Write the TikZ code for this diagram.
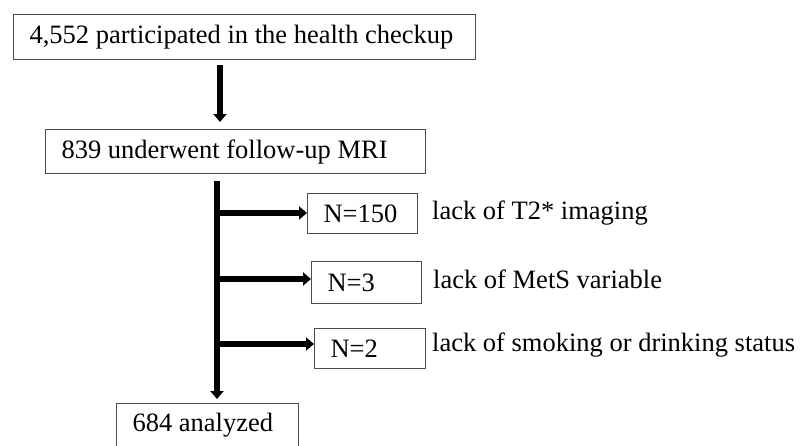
\documentclass[tikz,border=0pt]{standalone}
\usepackage{fontspec}
\setmainfont{Liberation Serif}
\usetikzlibrary{arrows.meta}

\begin{document}
\begin{tikzpicture}[x=1pt,y=-1pt,
   box/.style={draw=black!70,line width=1.1pt,anchor=north west,inner xsep=16pt,
     inner ysep=0pt,align=flush left,font=\fontsize{26.5}{30}\selectfont},
   flow/.style={line width=6pt,-{Triangle[length=8pt,width=13pt]}},
   note/.style={anchor=west,inner sep=0pt,font=\fontsize{26.5}{30}\selectfont}]
   \useasboundingbox (0,0) rectangle (801,445);

   \node[box,text width=430pt,minimum height=45pt] (checkup) at (13,14) {\mbox{4,552 participated in the health checkup}};
   \node[box,text width=348pt,minimum height=44pt] (mri) at (45,129) {\mbox{839 underwent follow-up MRI}};
   \node[box,text width=150pt,minimum height=44pt] (analyzed) at (116,403) {\mbox{684 analyzed}};

   \node[box,text width=78pt,minimum height=40pt] (t2box) at (307,193) {N=150};
   \node[box,text width=78pt,minimum height=42pt] (metsbox) at (311,261) {N=3};
   \node[box,text width=79pt,minimum height=40pt] (smokebox) at (314,328) {N=2};

   \node[note] (t2) at (432,213) {lack of T2* imaging};
   \node[note] (mets) at (433,279) {lack of MetS variable};
   \node[note] (smoke) at (432,345) {lack of smoking or drinking status};

   % arrows
   \coordinate (a1) at (220,65);
   \draw[flow,shorten >=7pt] (a1) -- (a1 |- mri.north);
   \coordinate (trunk) at (217,181);
   \draw[flow,shorten >=4pt] (trunk) -- (trunk |- analyzed.north);
   \coordinate (j1) at (217,213);
   \coordinate (j2) at (217,279);
   \coordinate (j3) at (217,344);
   \draw[flow] ([xshift=-3pt]j1) -- (j1 -| t2box.west);
   \draw[flow] ([xshift=-3pt]j2) -- (j2 -| metsbox.west);
   \draw[flow] ([xshift=-3pt]j3) -- (j3 -| smokebox.west);

\end{tikzpicture}
\end{document}
